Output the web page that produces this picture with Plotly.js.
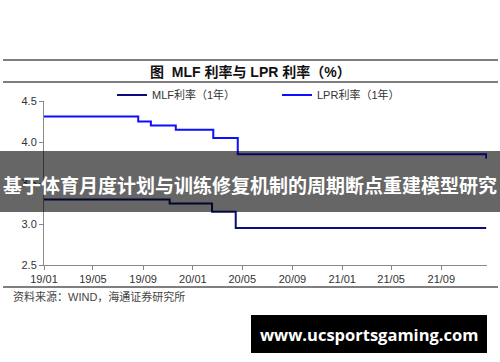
<!DOCTYPE html>
<html><head><meta charset="utf-8">
<script src="https://cdn.plot.ly/plotly-3.0.1.min.js"></script>
<style>html,body{margin:0;padding:0;background:#fff;}#chart{width:500px;height:362px;}</style>
</head><body><div id="chart"></div>
<script>
// Data
const mlfDates = ['2019-01-01','2019-11-05','2020-02-17','2020-04-15','2021-12-20'];
const mlfValues = [3.30, 3.25, 3.15, 2.95, 2.95];
const lprDates = ['2019-01-01','2019-08-20','2019-09-20','2019-11-20','2020-02-20','2020-04-20','2021-12-20'];
const lprValues = [4.31, 4.25, 4.20, 4.15, 4.05, 3.85, 3.80];
const seriesNames = ['MLF利率（1年）', 'LPR利率（1年）'];
const yTicks = [2.5, 3.0, 3.5, 4.0, 4.5];
const chartTitle = '图  MLF 利率与 LPR 利率（%）';
const sourceText = '资料来源：WIND，海通证券研究所';
const bannerText = '基于体育月度计划与训练修复机制的周期断点重建模型研究';
const watermarkText = 'www.ucsportsgaming.com';

// pixel helpers (plot area: x 44..487, y 101..265)
const L = 44, R = 487, T = 101, B = 265;
const px = v => (v - L) / (R - L);
const py = v => (B - v) / (B - T);

const traces = [
  {x: mlfDates, y: mlfValues, name: seriesNames[0], mode: 'lines', line: {shape: 'hv', color: '#0b0b7a', width: 2}},
  {x: lprDates, y: lprValues, name: seriesNames[1], mode: 'lines', line: {shape: 'hv', color: '#0d0dff', width: 2}}
];

const font = 'Liberation Sans, Arial, "Noto Sans CJK SC", sans-serif';
const layout = {
  width: 500, height: 362,
  margin: {l: L, r: 500 - R, t: T, b: 362 - B, pad: 0},
  paper_bgcolor: '#fff', plot_bgcolor: '#fff',
  font: {family: font, size: 11, color: '#333'},
  showlegend: true,
  legend: {orientation: 'h', x: px(112), y: py(95), xanchor: 'left', yanchor: 'middle',
           entrywidth: 120, font: {size: 11, color: '#333'}, bgcolor: 'rgba(0,0,0,0)', itemwidth: 30},
  xaxis: {type: 'date', range: ['2019-01-01', '2021-12-22'], tickformat: '%y/%m', dtick: 'M4', tick0: '2019-01-01',
          showgrid: false, zeroline: false, showline: true, linecolor: '#888', linewidth: 1,
          ticks: 'outside', ticklen: 4, tickcolor: '#888', tickfont: {size: 11, color: '#333'}},
  yaxis: {range: [2.5, 4.5], tickvals: yTicks, tickformat: '.1f', showgrid: false, zeroline: false,
          showline: true, linecolor: '#888', linewidth: 1, ticks: 'outside', ticklen: 4, tickcolor: '#888',
          tickfont: {size: 11, color: '#333'}},
  shapes: [
    {type: 'line', xref: 'paper', yref: 'paper', x0: px(3), x1: px(498), y0: py(60), y1: py(60), line: {color: '#555', width: 1.5}},
    {type: 'line', xref: 'paper', yref: 'paper', x0: px(3), x1: px(498), y0: py(82), y1: py(82), line: {color: '#555', width: 1.5}},
    {type: 'line', xref: 'paper', yref: 'paper', x0: px(3), x1: px(498), y0: py(287), y1: py(287), line: {color: '#555', width: 1.5}},
    {type: 'rect', xref: 'paper', yref: 'paper', x0: px(0), x1: px(500), y0: py(212), y1: py(151), fillcolor: 'rgba(0,0,0,0.6)', line: {width: 0}, layer: 'above'},
    {type: 'rect', xref: 'paper', yref: 'paper', x0: px(251), x1: px(487), y0: py(353), y1: py(315), fillcolor: '#000', line: {width: 0}, layer: 'above'}
  ],
  annotations: [
    {text: '<b>' + chartTitle + '</b>', xref: 'paper', yref: 'paper', x: px(250), y: py(71.5), xanchor: 'center', yanchor: 'middle', showarrow: false, font: {size: 14, color: '#111', family: font}},
    {text: sourceText, xref: 'paper', yref: 'paper', x: px(11), y: py(296), xanchor: 'left', yanchor: 'middle', showarrow: false, font: {size: 11, color: '#444', family: font}},
    {text: '<b>' + bannerText + '</b>', xref: 'paper', yref: 'paper', x: px(250), y: py(184), xanchor: 'center', yanchor: 'middle', showarrow: false, font: {size: 19, color: '#fff', family: '"Noto Sans CJK SC", sans-serif'}},
    {text: '<b>' + watermarkText + '</b>', xref: 'paper', yref: 'paper', x: px(369), y: py(334), xanchor: 'center', yanchor: 'middle', showarrow: false, font: {size: 16.5, color: '#fff', family: '"Open Sans", sans-serif'}}
  ]
};
Plotly.newPlot('chart', traces, layout, {displayModeBar: false, staticPlot: true});
</script></body></html>
